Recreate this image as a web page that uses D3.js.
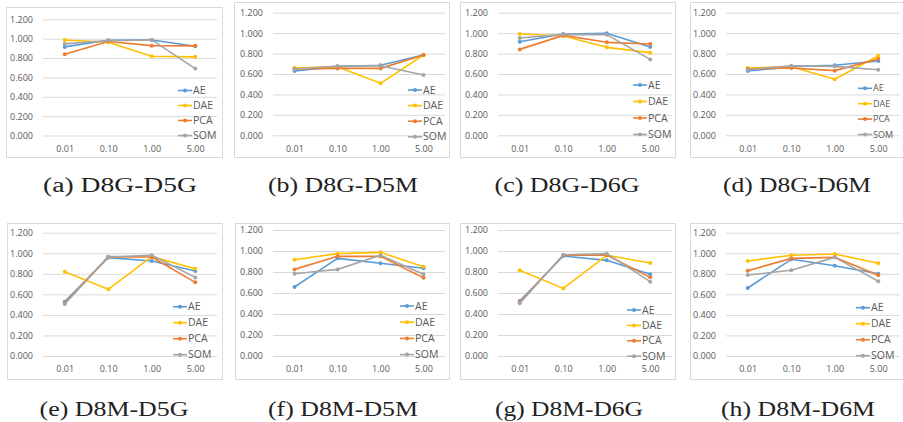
<!DOCTYPE html>
<html>
<head>
<meta charset="utf-8">
<script src="https://cdn.jsdelivr.net/npm/d3@7"></script>
<style>
  body { margin: 0; background: #fff; }
  svg { display: block; }
  .tick text { font-family: "Open Sans", sans-serif; fill: #595959; }
</style>
</head>
<body>
<div id="chart"></div>
<script>
// data
const categories = ["0.01", "0.10", "1.00", "5.00"];
const seriesNames = ["AE", "DAE", "PCA", "SOM"];
const seriesColors = ["#5B9BD5", "#FFC000", "#ED7D31", "#A5A5A5"];
const yTicks = [0, 0.2, 0.4, 0.6, 0.8, 1.0, 1.2];
const captions = ["(a) D8G-D5G", "(b) D8G-D5M", "(c) D8G-D6G", "(d) D8G-D6M",
                  "(e) D8M-D5G", "(f) D8M-D5M", "(g) D8M-D6G", "(h) D8M-D6M"];

// one row per series: AE, DAE, PCA, SOM
const valuesA = [[0.915, 0.983, 0.987, 0.922], [0.987, 0.963, 0.818, 0.812], [0.839, 0.970, 0.928, 0.926], [0.946, 0.980, 0.987, 0.691]];
const valuesB = [[0.629, 0.672, 0.685, 0.786], [0.659, 0.672, 0.509, 0.786], [0.649, 0.655, 0.655, 0.786], [0.646, 0.678, 0.681, 0.590]];
const valuesC = [[0.916, 0.991, 0.998, 0.864], [0.991, 0.972, 0.861, 0.809], [0.841, 0.978, 0.910, 0.893], [0.952, 0.988, 0.985, 0.743]];
const valuesD = [[0.629, 0.672, 0.685, 0.727], [0.659, 0.672, 0.548, 0.779], [0.649, 0.659, 0.633, 0.747], [0.642, 0.681, 0.675, 0.642]];
const valuesE = [[0.529, 0.957, 0.924, 0.827], [0.821, 0.649, 0.967, 0.850], [0.512, 0.967, 0.963, 0.717], [0.506, 0.963, 0.980, 0.765]];
const valuesF = [[0.657, 0.930, 0.883, 0.835], [0.917, 0.975, 0.987, 0.851], [0.825, 0.949, 0.949, 0.746], [0.784, 0.825, 0.959, 0.778]];
const valuesG = [[0.524, 0.952, 0.911, 0.778], [0.816, 0.644, 0.959, 0.886], [0.511, 0.959, 0.962, 0.749], [0.502, 0.965, 0.975, 0.708]];
const valuesH = [[0.662, 0.941, 0.879, 0.801], [0.924, 0.980, 0.993, 0.902], [0.830, 0.950, 0.960, 0.785], [0.788, 0.834, 0.960, 0.727]];
const allValues = [valuesA, valuesB, valuesC, valuesD, valuesE, valuesF, valuesG, valuesH];

// layout: box = chart border, plot = [x0, yTop(1.2), x1, yBottom(0)], leg = [lineX, firstRowY, step, fontSize], cap = [cx, baseline, width]
const layout = [
  {box: [6, 7, 222, 157],     plot: [43, 19.3, 217, 135.5],   leg: [178, 90.5, 15, 10.5],   cap: [120, 192, 154]},
  {box: [234, 2, 449, 157],   plot: [273, 12.7, 445, 135.3],  leg: [408, 90, 15.6, 10.5],   cap: [343, 192, 150]},
  {box: [460, 2, 675, 157],   plot: [498, 12.7, 672, 135.3],  leg: [633, 85, 16.5, 10.5],   cap: [567, 192, 145]},
  {box: [690, 2, 904, 157],   plot: [726, 12.7, 900, 135.3],  leg: [858, 88.3, 15.4, 9],    cap: [797, 192, 148]},
  {box: [7, 223, 222, 379],   plot: [43, 232.7, 217, 356],    leg: [173, 306.7, 16, 10.5],  cap: [114, 416, 149]},
  {box: [235, 223, 449, 379], plot: [273, 230, 445, 356],     leg: [400, 306, 16.2, 10.5],  cap: [343, 416, 150]},
  {box: [460, 223, 675, 379], plot: [498, 230, 672, 356],     leg: [627, 310, 15.4, 10.5],  cap: [569, 416, 148]},
  {box: [690, 223, 904, 379], plot: [726, 232.7, 900, 356],   leg: [856, 307.7, 16, 10.5],  cap: [798, 416, 154]}
];

const svg = d3.select("#chart").append("svg")
  .attr("width", 903)
  .attr("height", 422);

layout.forEach((L, i) => {
  const vals = allValues[i];
  const [x0, yTop, x1, yBot] = L.plot;
  const g = svg.append("g");

  g.append("rect")
    .attr("x", L.box[0] + 0.5).attr("y", L.box[1] + 0.5)
    .attr("width", L.box[2] - L.box[0]).attr("height", L.box[3] - L.box[1])
    .attr("fill", "#fff").attr("stroke", "#D9D9D9");

  const x = d3.scalePoint().domain(categories).range([x0, x1]).padding(0.5);
  const y = d3.scaleLinear().domain([0, 1.2]).range([yBot, yTop]);

  // gridlines
  g.append("g")
    .attr("transform", `translate(${x0},0)`)
    .call(d3.axisLeft(y).tickValues(yTicks).tickSize(-(x1 - x0)).tickFormat(""))
    .call(a => a.select(".domain").remove())
    .call(a => a.selectAll("line").attr("stroke", "#D9D9D9"));

  // y labels
  g.append("g")
    .attr("transform", `translate(${x0},0)`)
    .call(d3.axisLeft(y).tickValues(yTicks).tickSize(0).tickPadding(10).tickFormat(d3.format(".3f")))
    .call(a => a.select(".domain").remove())
    .call(a => a.selectAll("text").style("font-size", "9px"));

  // x labels
  g.append("g")
    .attr("transform", `translate(0,${yBot})`)
    .call(d3.axisBottom(x).tickSize(0).tickPadding(10))
    .call(a => a.select(".domain").remove())
    .call(a => a.selectAll("text").style("font-size", "9px"));

  const line = d3.line()
    .x((d, j) => x(categories[j]))
    .y(d => y(d));

  vals.forEach((s, k) => {
    g.append("path")
      .datum(s)
      .attr("d", line)
      .attr("fill", "none")
      .attr("stroke", seriesColors[k])
      .attr("stroke-width", 1.6)
      .attr("stroke-linejoin", "round");
    g.selectAll(null)
      .data(s)
      .join("circle")
      .attr("cx", (d, j) => x(categories[j]))
      .attr("cy", d => y(d))
      .attr("r", 2)
      .attr("fill", seriesColors[k]);
  });

  // legend
  const [lx, ly, ls, lf] = L.leg;
  seriesNames.forEach((n, k) => {
    const yy = ly + k * ls;
    g.append("line")
      .attr("x1", lx).attr("x2", lx + 14)
      .attr("y1", yy).attr("y2", yy)
      .attr("stroke", seriesColors[k]).attr("stroke-width", 1.6);
    g.append("circle")
      .attr("cx", lx + 7).attr("cy", yy).attr("r", 2)
      .attr("fill", seriesColors[k]);
    g.append("text")
      .attr("x", lx + 15).attr("y", yy)
      .attr("dy", "0.35em")
      .style("font-family", "'Open Sans', sans-serif")
      .style("font-size", lf + "px")
      .attr("fill", "#595959")
      .text(n);
  });

  // caption
  const [cx, cy, cw] = L.cap;
  svg.append("text")
    .attr("x", cx - cw / 2).attr("y", cy)
    .attr("textLength", cw)
    .attr("lengthAdjust", "spacingAndGlyphs")
    .style("font-family", "'Liberation Serif', serif")
    .style("font-size", "20px")
    .attr("fill", "#222")
    .text(captions[i]);
});
</script>
</body>
</html>
